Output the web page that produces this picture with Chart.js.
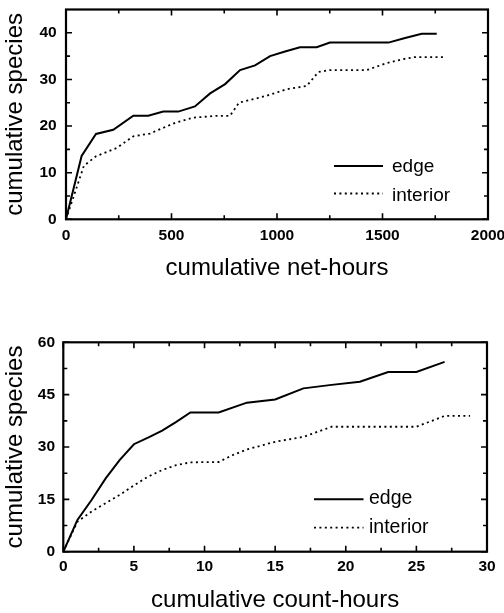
<!DOCTYPE html>
<html>
<head>
<meta charset="utf-8">
<script src="https://cdn.jsdelivr.net/npm/chart.js@4.4.1/dist/chart.umd.min.js"></script>
<style>
  html, body { margin: 0; padding: 0; background: #fff; }
  body { width: 504px; height: 613px; position: relative; overflow: hidden; }
  canvas { position: absolute; left: 0; }
</style>
</head>
<body>
<canvas id="topChart" width="504" height="300" style="top:0"></canvas>
<canvas id="botChart" width="504" height="313" style="top:300px"></canvas>
<script>
// ---------- data ----------
const netHoursEdge     = [0, 74, 142, 224, 319, 390, 461, 532, 611, 683, 754, 825, 896, 967, 1038, 1109, 1188, 1251, 1528, 1607, 1686, 1757];
const speciesEdgeNet   = [0, 13.6, 18.3, 19.2, 22.2, 22.2, 23.1, 23.1, 24.2, 27, 29, 32, 33, 35, 36, 36.9, 36.9, 37.9, 37.9, 38.9, 39.8, 39.8];
const netHoursInt      = [0, 85, 142, 240, 319, 398, 517, 604, 714, 777, 820, 951, 1046, 1141, 1196, 1250, 1425, 1520, 1591, 1654, 1796];
const speciesIntNet    = [0, 11.5, 13.5, 15.3, 17.8, 18.4, 20.7, 21.8, 22.2, 22.2, 25.0, 26.5, 27.9, 28.6, 31.6, 32, 32, 33.5, 34.3, 34.8, 34.8];

const countHoursEdge   = [0, 1, 2, 3, 4, 5, 6, 7, 8, 9, 11, 13, 15, 17, 19, 21, 23, 25, 27];
const speciesEdgeCount = [0, 9.1, 14.8, 21, 26.3, 30.8, 32.7, 34.7, 37.2, 39.9, 39.9, 42.7, 43.6, 46.8, 47.8, 48.7, 51.5, 51.5, 54.4];
const countHoursInt    = [0, 1, 2, 3, 4, 5, 6, 7, 8, 9, 11, 12, 13, 15, 17, 19, 21, 23, 25, 27, 28.8];
const speciesIntCount  = [0, 8.6, 11.5, 13.9, 16.3, 19.0, 21.5, 23.4, 24.8, 25.6, 25.7, 27.7, 29.3, 31.5, 32.9, 35.8, 35.8, 35.8, 35.8, 38.9, 38.9];

const seriesLabels = ['edge', 'interior'];

// tick labels / tick mark positions
const xTicksTop  = [0, 500, 1000, 1500, 2000];
const xMinorTop  = [250, 750, 1250, 1750];
const yTicksTop  = [0, 10, 20, 30, 40];
const yMinorTop  = [5, 15, 25, 35];
const xTicksBot  = [0, 5, 10, 15, 20, 25, 30];
const xMinorBot  = [2.5, 7.5, 12.5, 17.5, 22.5, 27.5];
const yTicksBot  = [0, 15, 30, 45, 60];
const yMinorBot  = [7.5, 22.5, 37.5, 52.5];

const FONT = '"Liberation Sans", Arial, Helvetica, sans-serif';
Chart.defaults.color = '#000';
Chart.defaults.font.family = FONT;

// ---------- plugin: inward ticks on all sides, thick frame, inset legend ----------
const axisFrame = {
  id: 'axisFrame',
  afterDatasetsDraw(chart, args, o) {
    const { ctx, chartArea: a } = chart;
    const xs = chart.scales.x, ys = chart.scales.y;
    ctx.save();
    ctx.strokeStyle = '#000';
    ctx.lineWidth = 1.6;
    ctx.beginPath();
    const xt = (vals, len) => vals.forEach(v => {
      const p = xs.getPixelForValue(v);
      ctx.moveTo(p, a.bottom); ctx.lineTo(p, a.bottom - len);
      ctx.moveTo(p, a.top);    ctx.lineTo(p, a.top + len);
    });
    const yt = (vals, len) => vals.forEach(v => {
      const p = ys.getPixelForValue(v);
      ctx.moveTo(a.left, p);  ctx.lineTo(a.left + len, p);
      ctx.moveTo(a.right, p); ctx.lineTo(a.right - len, p);
    });
    xt(o.xMajor, o.majorLen); xt(o.xMinor, o.minorLen);
    yt(o.yMajor, o.majorLen); yt(o.yMinor, o.minorLen);
    ctx.stroke();
    ctx.lineWidth = 2.2;
    ctx.strokeRect(a.left, a.top, a.right - a.left, a.bottom - a.top);

    // legend
    const L = o.legend;
    ctx.font = L.size + 'px ' + FONT;
    ctx.fillStyle = '#000';
    ctx.textBaseline = 'middle';
    ctx.textAlign = 'left';
    chart.data.datasets.forEach((ds, i) => {
      ctx.beginPath();
      ctx.lineWidth = ds.borderWidth;
      ctx.setLineDash(ds.borderDash || []);
      ctx.moveTo(L.x0, L.lineY[i]);
      ctx.lineTo(L.x1, L.lineY[i]);
      ctx.stroke();
      ctx.setLineDash([]);
      ctx.fillText(ds.label, L.tx, L.textY[i]);
    });
    ctx.restore();
  }
};

function makeChart(id, cfg) {
  const H = cfg.canvasH;
  const area = cfg.area; // left, right, top, bottom (in canvas px)
  return new Chart(document.getElementById(id), {
    type: 'line',
    data: {
      datasets: [
        { label: seriesLabels[0], data: cfg.xE.map((v, i) => ({ x: v, y: cfg.yE[i] })),
          borderColor: '#000', borderWidth: 2, pointRadius: 0, tension: 0, fill: false },
        { label: seriesLabels[1], data: cfg.xI.map((v, i) => ({ x: v, y: cfg.yI[i] })),
          borderColor: '#000', borderWidth: 1.8, borderDash: [2, 3.4], pointRadius: 0, tension: 0, fill: false }
      ]
    },
    options: {
      responsive: false,
      animation: false,
      devicePixelRatio: 1,
      events: [],
      layout: { padding: { left: 0, right: 504 - area.right, top: area.top, bottom: 0 } },
      plugins: {
        legend: { display: false },
        tooltip: { enabled: false },
        axisFrame: {
          xMajor: cfg.xTicks, xMinor: cfg.xMinor, yMajor: cfg.yTicks, yMinor: cfg.yMinor,
          majorLen: 6, minorLen: 4,
          legend: cfg.legend
        }
      },
      scales: {
        x: {
          type: 'linear', min: cfg.xMin, max: cfg.xMax,
          afterBuildTicks: s => { s.ticks = cfg.xTicks.map(v => ({ value: v })); },
          afterFit: s => { s.height = H - area.bottom; s.paddingLeft = 0; s.paddingRight = 0; },
          grid: { display: false, drawTicks: false },
          border: { display: false },
          ticks: { autoSkip: false, maxRotation: 0, padding: cfg.xPad,
                   callback: v => String(v),
                   font: { size: 15.5, weight: 'bold' }, color: '#000' },
          title: { display: true, text: cfg.xTitle, color: '#000',
                   font: { size: 24, lineHeight: 1 }, padding: { top: 0, bottom: cfg.xTitlePad } }
        },
        y: {
          type: 'linear', min: cfg.yMin, max: cfg.yMax,
          afterBuildTicks: s => { s.ticks = cfg.yTicks.map(v => ({ value: v })); },
          afterFit: s => { s.width = area.left; s.paddingTop = 0; s.paddingBottom = 0; },
          grid: { display: false, drawTicks: false },
          border: { display: false },
          ticks: { autoSkip: false, padding: cfg.yPad,
                   callback: v => String(v),
                   font: { size: 15.5, weight: 'bold' }, color: '#000' },
          title: { display: true, text: 'cumulative species', color: '#000',
                   font: { size: 24, lineHeight: 1 }, padding: { top: 3.5, bottom: 0 } }
        }
      }
    },
    plugins: [axisFrame]
  });
}

makeChart('topChart', {
  canvasH: 300,
  area: { left: 66, right: 488, top: 9.5, bottom: 219.3 },
  xE: netHoursEdge, yE: speciesEdgeNet, xI: netHoursInt, yI: speciesIntNet,
  xMin: 0, xMax: 2000, yMin: 0, yMax: 45,
  xTicks: xTicksTop, xMinor: xMinorTop, yTicks: yTicksTop, yMinor: yMinorTop,
  xPad: 7.4, yPad: 9.3, xTitle: 'cumulative net-hours', xTitlePad: 19.2,
  legend: { x0: 334, x1: 383, tx: 392, size: 19, lineY: [166, 193.5], textY: [167, 195.4] }
});

makeChart('botChart', {
  canvasH: 313,
  area: { left: 63.3, right: 487, top: 42.3, bottom: 251.7 },
  xE: countHoursEdge, yE: speciesEdgeCount, xI: countHoursInt, yI: speciesIntCount,
  xMin: 0, xMax: 30, yMin: 0, yMax: 60,
  xTicks: xTicksBot, xMinor: xMinorBot, yTicks: yTicksBot, yMinor: yMinorBot,
  xPad: 5.7, yPad: 8.3, xTitle: 'cumulative count-hours', xTitlePad: 0.7,
  legend: { x0: 314, x1: 363.5, tx: 369, size: 19.5, lineY: [499.3 - 300, 527.7 - 300], textY: [498.7 - 300, 527.7 - 300] }
});
</script>
</body>
</html>
